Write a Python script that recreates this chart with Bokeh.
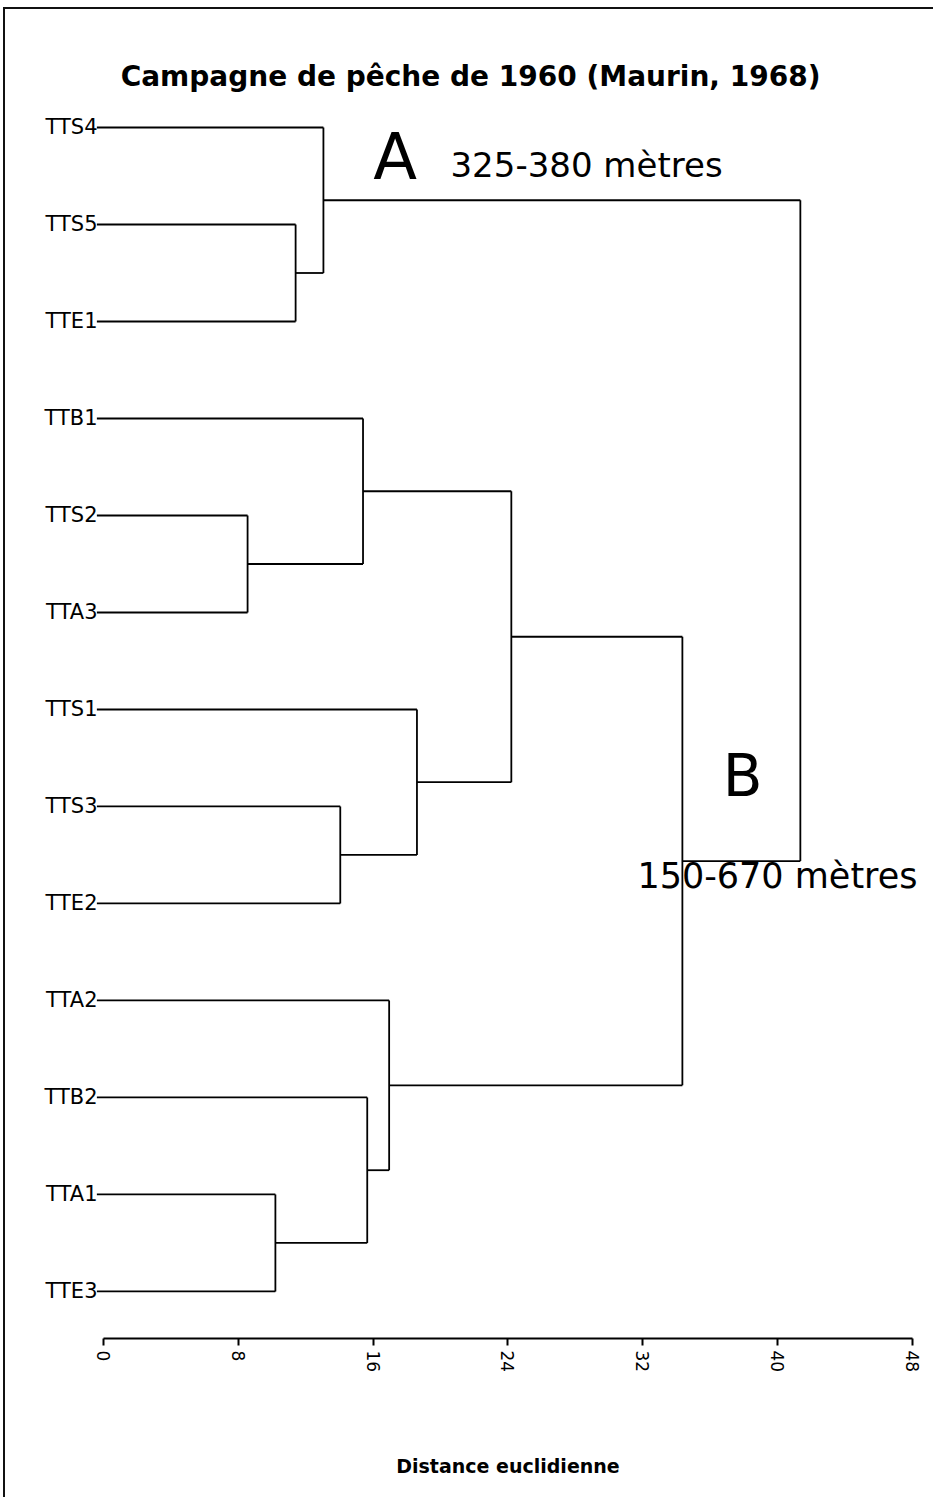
import math
from bokeh.plotting import figure
from bokeh.models import Range1d, FixedTicker, Label
from bokeh.embed import file_html
from bokeh.resources import INLINE

# ---- data ----
leaves = ["TTS4", "TTS5", "TTE1", "TTB1", "TTS2", "TTA3", "TTS1",
          "TTS3", "TTE2", "TTA2", "TTB2", "TTA1", "TTE3"]
# agglomeration steps: node name, first child, second child, fusion distance
node_names = ["N1", "N2", "N3", "N4", "N5", "N6", "N7", "N8", "N9", "N10", "N11", "N12"]
child_a = ["TTS5", "TTS4", "TTS2", "TTB1", "TTS3", "TTS1", "N4", "TTA1", "TTB2", "TTA2", "N7", "N2"]
child_b = ["TTE1", "N1", "TTA3", "N3", "TTE2", "N5", "N6", "TTE3", "N8", "N9", "N10", "N11"]
fusion_dist = [11.4, 13.05, 8.55, 15.4, 14.05, 18.6, 24.2, 10.2, 15.65, 16.95, 34.35, 41.35]
x_ticks = [0, 8, 16, 24, 32, 40, 48]

title_text = "Campagne de pêche de 1960 (Maurin, 1968)"
axis_title = "Distance euclidienne"

# ---- build dendrogram geometry ----
pos = {}
for i, name in enumerate(leaves):
    pos[name] = (0.0, float(i))

LEAF_START = -0.4
x0, y0, x1, y1 = [], [], [], []
for name, a, b, h in zip(node_names, child_a, child_b, fusion_dist):
    for c in (a, b):
        cx, cy = pos[c]
        start = LEAF_START if c in leaves else cx
        x0.append(start); y0.append(cy); x1.append(h); y1.append(cy)
    ya, yb = pos[a][1], pos[b][1]
    x0.append(h); y0.append(ya); x1.append(h); y1.append(yb)
    pos[name] = (h, (ya + yb) / 2.0)

W, H = 930, 1490
p = figure(width=W, height=H, output_backend="svg", toolbar_location=None,
           x_range=Range1d(-0.415, 48.42), y_range=Range1d(12.485, -1.2165),
           y_axis_location="left", x_axis_location="below",
           min_border=0, min_border_left=91, min_border_right=16,
           min_border_top=0, min_border_bottom=161)
p.outline_line_color = None
p.grid.visible = False
p.background_fill_color = "white"
p.styles = {"border-top": "2px solid #111", "border-left": "2px solid #111",
            "margin-top": "7px", "margin-left": "3px"}

p.segment(x0=x0, y0=y0, x1=x1, y1=y1, line_color="black", line_width=1.8)

# leaf labels on the y axis
ya_ = p.yaxis[0]
ya_.ticker = FixedTicker(ticks=list(range(len(leaves))))
ya_.major_label_overrides = {i: n for i, n in enumerate(leaves)}
ya_.axis_line_color = None
ya_.major_tick_line_color = None
ya_.minor_tick_line_color = None
ya_.major_label_standoff = -7
ya_.major_label_text_font = "DejaVu Sans"
ya_.major_label_text_font_size = "21px"
ya_.major_label_text_color = "black"

ax = p.xaxis[0]
ax.ticker = FixedTicker(ticks=x_ticks)
ax.bounds = (0, 48)
ax.axis_line_width = 2
ax.major_tick_line_width = 2
ax.major_tick_out = 7
ax.major_tick_in = 0
ax.minor_tick_line_color = None
ax.major_label_orientation = -math.pi / 2
ax.major_label_text_font = "DejaVu Sans"
ax.major_label_text_font_size = "17px"
ax.major_label_text_color = "black"
ax.major_label_standoff = 5
ax.axis_label = axis_title
ax.axis_label_text_font = "DejaVu Sans"
ax.axis_label_text_font_style = "bold"
ax.axis_label_text_font_size = "19px"
ax.axis_label_text_color = "black"
ax.axis_label_standoff = 80

def lab(x, y, t, size, bold=False, align="left"):
    p.add_layout(Label(x=x, y=y, text=t, text_font="DejaVu Sans",
                       text_font_size=size, text_align=align,
                       text_baseline="alphabetic", text_color="black",
                       text_font_style="bold" if bold else "normal"))

lab(21.78, -0.527, title_text, "28px", bold=True, align="center")
lab(16.0, 0.30, "A", "64px")
lab(20.59, 0.39, "325-380 mètres", "34px")
lab(36.75, 6.69, "B", "58px")
lab(31.68, 7.72, "150-670 mètres", "35px")

open("out.html", "w").write(file_html(p, INLINE))
